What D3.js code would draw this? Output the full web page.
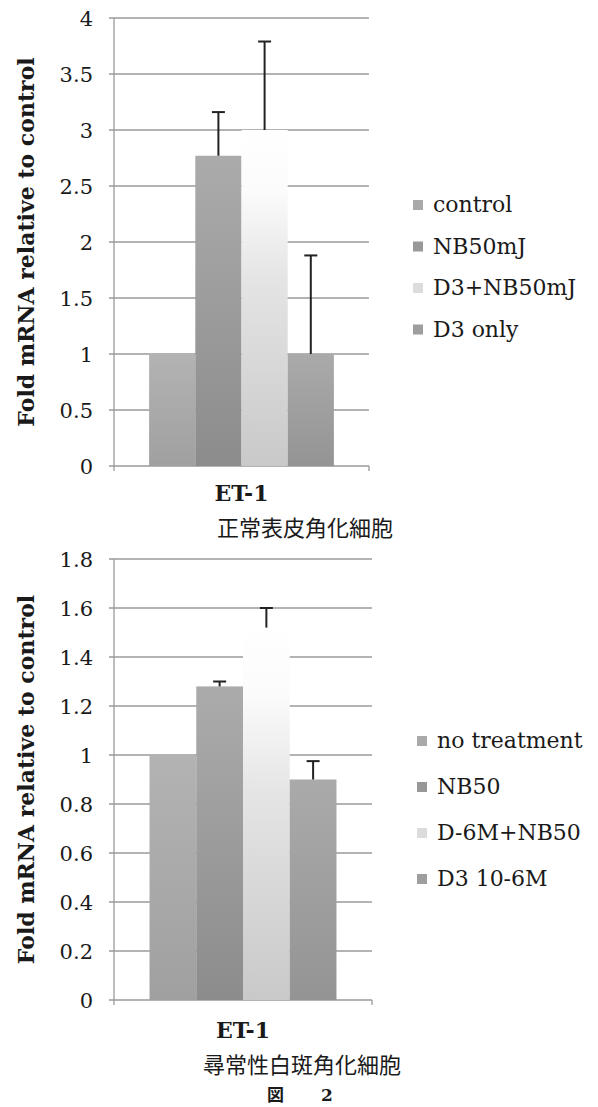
<!DOCTYPE html>
<html>
<head>
<meta charset="utf-8">
<script src="https://cdn.jsdelivr.net/npm/d3@7"></script>
<style>
  html, body { margin: 0; padding: 0; background: #fff; }
  svg { display: block; }
</style>
</head>
<body>
<div id="chart"></div>
<script>
// ---------------------------------------------------------------------------
// Data
// ---------------------------------------------------------------------------
const CATEGORY = 'ET-1';

const topSeries = ['control', 'NB50mJ', 'D3+NB50mJ', 'D3 only'];
const topValues = [1.0, 2.77, 3.0, 1.0];
const topErrors = [0, 0.39, 0.79, 0.88];
const topTicks = [0, 0.5, 1, 1.5, 2, 2.5, 3, 3.5, 4];
const topCaption = '正常表皮角化細胞';

const bottomSeries = ['no treatment', 'NB50', 'D-6M+NB50', 'D3 10-6M'];
const bottomValues = [1.0, 1.28, 1.52, 0.90];
const bottomErrors = [0, 0.02, 0.08, 0.075];
const bottomTicks = [0, 0.2, 0.4, 0.6, 0.8, 1, 1.2, 1.4, 1.6, 1.8];
const bottomCaption = '尋常性白斑角化細胞';

const Y_TITLE = 'Fold mRNA relative to control';
const FIGURE_LABEL = '図';
const FIGURE_NUMBER = '2';

// ---------------------------------------------------------------------------
// Visual configuration
// ---------------------------------------------------------------------------
const WIDTH = 598;
const HEIGHT = 1107;
const SERIF = '"DejaVu Serif", serif';
const CJK = '"Noto Sans CJK JP", sans-serif';
const GRID_COLOR = '#9a9a9a';
const TEXT_COLOR = '#1a1a1a';
const ERR_COLOR = '#222';
// gradient stops per series, top to bottom
const BAR_GRADIENTS = [
    [['0%', '#b3b3b3'], ['100%', '#a0a0a0']],
    [['0%', '#ababab'], ['100%', '#8c8c8c']],
    [['0%', '#ffffff'], ['18%', '#fbfbfb'], ['45%', '#e4e4e4'], ['100%', '#c9c9c9']],
    [['0%', '#aaaaaa'], ['100%', '#949494']]
];
const SWATCH_COLORS = ['#a9a9a9', '#989898', '#dcdcdc', '#9e9e9e'];

const svg = d3.select('#chart')
    .append('svg')
    .attr('width', WIDTH)
    .attr('height', HEIGHT);

const defs = svg.append('defs');
BAR_GRADIENTS.forEach((stops, i) => {
    const grad = defs.append('linearGradient')
        .attr('id', `bar-grad-${i}`)
        .attr('x1', 0).attr('y1', 0)
        .attr('x2', 0).attr('y2', 1);
    stops.forEach(([offset, color]) => {
        grad.append('stop').attr('offset', offset).attr('stop-color', color);
    });
});

/**
 * Draws one grouped bar panel (single category, four series) with
 * gridlines, error bars, legend and captions.
 */
function drawPanel(cfg) {
    const { series, values, errors, ticks, caption } = cfg;

    const y = d3.scaleLinear()
        .domain([0, ticks[ticks.length - 1]])
        .range([cfg.y0, cfg.y1]);

    const x0 = d3.scaleBand()
        .domain([CATEGORY])
        .range([cfg.xLeft, cfg.xRight])
        .paddingOuter(cfg.outerPad);

    const x1 = d3.scaleBand()
        .domain(series)
        .range([0, x0.bandwidth()]);

    const g = svg.append('g');

    // gridlines + small left ticks
    g.append('g')
        .selectAll('line')
        .data(ticks)
        .enter()
        .append('line')
        .attr('x1', cfg.xLeft - 5)
        .attr('x2', cfg.xRight)
        .attr('y1', d => y(d))
        .attr('y2', d => y(d))
        .attr('stroke', GRID_COLOR)
        .attr('stroke-width', 1.3);

    // vertical axis line
    g.append('line')
        .attr('x1', cfg.xLeft).attr('x2', cfg.xLeft)
        .attr('y1', y(ticks[ticks.length - 1])).attr('y2', y(0) + 5)
        .attr('stroke', GRID_COLOR)
        .attr('stroke-width', 1.3);

    // category boundary tick at the right end
    g.append('line')
        .attr('x1', cfg.xRight).attr('x2', cfg.xRight)
        .attr('y1', y(0)).attr('y2', y(0) + 5)
        .attr('stroke', GRID_COLOR)
        .attr('stroke-width', 1.3);

    // tick labels
    g.append('g')
        .selectAll('text')
        .data(ticks)
        .enter()
        .append('text')
        .attr('x', cfg.xLeft - 21)
        .attr('y', d => y(d))
        .attr('dy', '0.36em')
        .attr('text-anchor', 'end')
        .attr('font-family', SERIF)
        .attr('font-size', 21)
        .attr('fill', TEXT_COLOR)
        .text(d => String(d));

    // bars
    const bars = series.map((s, i) => ({ name: s, value: values[i], err: errors[i], i }));
    const groupX = x0(CATEGORY);

    g.append('g')
        .selectAll('rect')
        .data(bars)
        .enter()
        .append('rect')
        .attr('x', d => groupX + x1(d.name))
        .attr('y', d => y(d.value))
        .attr('width', x1.bandwidth())
        .attr('height', d => y(0) - y(d.value))
        .attr('fill', d => `url(#bar-grad-${d.i})`);

    // error bars (plus side only)
    const errG = g.append('g')
        .selectAll('g')
        .data(bars.filter(d => d.err > 0))
        .enter()
        .append('g');

    errG.append('line')
        .attr('x1', d => groupX + x1(d.name) + x1.bandwidth() / 2)
        .attr('x2', d => groupX + x1(d.name) + x1.bandwidth() / 2)
        .attr('y1', d => y(d.value))
        .attr('y2', d => y(d.value + d.err))
        .attr('stroke', ERR_COLOR)
        .attr('stroke-width', 2);

    errG.append('line')
        .attr('x1', d => groupX + x1(d.name) + x1.bandwidth() / 2 - 6.5)
        .attr('x2', d => groupX + x1(d.name) + x1.bandwidth() / 2 + 6.5)
        .attr('y1', d => y(d.value + d.err))
        .attr('y2', d => y(d.value + d.err))
        .attr('stroke', ERR_COLOR)
        .attr('stroke-width', 2);

    // y axis title
    g.append('text')
        .attr('transform', `translate(${cfg.titleX},${(cfg.y0 + cfg.y1) / 2}) rotate(-90)`)
        .attr('text-anchor', 'middle')
        .attr('font-family', SERIF)
        .attr('font-weight', 'bold')
        .attr('font-size', 22)
        .attr('fill', TEXT_COLOR)
        .text(Y_TITLE);

    // category label
    g.append('text')
        .attr('x', groupX + x0.bandwidth() / 2)
        .attr('y', cfg.catY)
        .attr('text-anchor', 'middle')
        .attr('font-family', SERIF)
        .attr('font-weight', 'bold')
        .attr('font-size', 22)
        .attr('fill', TEXT_COLOR)
        .text(CATEGORY);

    // caption under the chart
    g.append('text')
        .attr('x', cfg.captionX)
        .attr('y', cfg.captionY)
        .attr('font-family', CJK)
        .attr('font-size', 22)
        .attr('fill', TEXT_COLOR)
        .text(caption);

    // legend
    const legend = g.append('g')
        .selectAll('g')
        .data(series)
        .enter()
        .append('g')
        .attr('transform', (d, i) => `translate(${cfg.legendX},${cfg.legendY + i * cfg.legendStep})`);

    legend.append('rect')
        .attr('x', 0)
        .attr('y', -12)
        .attr('width', 10)
        .attr('height', 10)
        .attr('fill', (d, i) => SWATCH_COLORS[i]);

    legend.append('text')
        .attr('x', 20)
        .attr('y', 0)
        .attr('font-family', SERIF)
        .attr('font-size', 22)
        .attr('fill', TEXT_COLOR)
        .text(d => d);
}

drawPanel({
    series: topSeries, values: topValues, errors: topErrors, ticks: topTicks, caption: topCaption,
    y0: 466, y1: 18, xLeft: 114, xRight: 369, outerPad: 0.19,
    titleX: 34, catY: 501, captionX: 217, captionY: 536,
    legendX: 413, legendY: 212, legendStep: 41.5
});

drawPanel({
    series: bottomSeries, values: bottomValues, errors: bottomErrors, ticks: bottomTicks, caption: bottomCaption,
    y0: 1000, y1: 559, xLeft: 114, xRight: 372, outerPad: 0.19,
    titleX: 34, catY: 1038, captionX: 203, captionY: 1073,
    legendX: 417, legendY: 748, legendStep: 46
});

// figure label
svg.append('text')
    .attr('x', 267)
    .attr('y', 1101)
    .attr('font-family', CJK)
    .attr('font-weight', 'bold')
    .attr('font-size', 17)
    .attr('fill', TEXT_COLOR)
    .text(FIGURE_LABEL);

svg.append('text')
    .attr('x', 321)
    .attr('y', 1101)
    .attr('font-family', SERIF)
    .attr('font-weight', 'bold')
    .attr('font-size', 17)
    .attr('fill', TEXT_COLOR)
    .text(FIGURE_NUMBER);
</script>
</body>
</html>
